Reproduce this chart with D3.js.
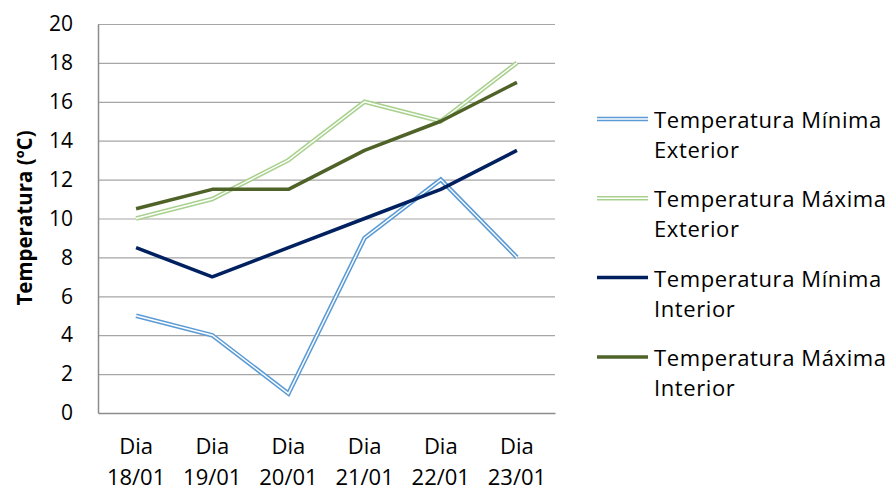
<!DOCTYPE html>
<html><head><meta charset="utf-8">
<script src="https://cdn.jsdelivr.net/npm/d3@7"></script>
<style>body{margin:0;background:#fff}svg{display:block}text{font-family:"Open Sans",sans-serif;fill:#000}</style>
</head><body><svg id="c" width="890" height="492"></svg>
<script>
const categories = [["Dia","18/01"],["Dia","19/01"],["Dia","20/01"],["Dia","21/01"],["Dia","22/01"],["Dia","23/01"]];
const minExterior = [5, 4, 1, 9, 12, 8];
const maxExterior = [10, 11, 13, 16, 15, 18];
const minInterior = [8.5, 7, 8.5, 10, 11.5, 13.5];
const maxInterior = [10.5, 11.5, 11.5, 13.5, 15, 17];
const yTicks = [0,2,4,6,8,10,12,14,16,18,20];
const seriesNames = [["Temperatura Mínima","Exterior"],["Temperatura Máxima","Exterior"],["Temperatura Mínima","Interior"],["Temperatura Máxima","Interior"]];
const yTitle = "Temperatura (ºC)";

const series = [
  {name: seriesNames[0], values: minExterior, color: "#5b9bd5", double: true},
  {name: seriesNames[1], values: maxExterior, color: "#a9d18e", double: true},
  {name: seriesNames[2], values: minInterior, color: "#002060", double: false},
  {name: seriesNames[3], values: maxInterior, color: "#4f6228", double: false}
];

const svg = d3.select("#c");
const L = 98, R = 555, T = 24, B = 413;
const x = d3.scaleBand().domain(d3.range(categories.length)).range([L, R]);
const y = d3.scaleLinear().domain([0, 20]).range([B, T]);

// gridlines
svg.append("g").selectAll("line").data(yTicks.filter(d => d > 0)).join("line")
  .attr("x1", L).attr("x2", R).attr("y1", d => y(d) + 0.5).attr("y2", d => y(d) + 0.5)
  .attr("stroke", "#a6a6a6").attr("stroke-width", 1.2);

// axes
const yAxis = svg.append("g").attr("transform", `translate(${L},0)`)
  .call(d3.axisLeft(y).tickValues(yTicks).tickSize(0).tickPadding(25));
yAxis.select(".domain").attr("stroke", "#8c8c8c").attr("stroke-width", 1.5);
yAxis.selectAll("text").attr("font-size", 21).attr("font-family", "Open Sans").attr("fill", "#000");

const xAxis = svg.append("g").attr("transform", `translate(0,${B})`)
  .call(d3.axisBottom(x).tickSize(0).tickFormat(""));
xAxis.select(".domain").attr("stroke", "#8c8c8c").attr("stroke-width", 1.5);
xAxis.selectAll(".tick").each(function(d) {
  const t = d3.select(this).append("text").attr("text-anchor", "middle")
    .attr("font-size", 22).attr("fill", "#000");
  t.append("tspan").attr("x", 0).attr("y", 41).text(categories[d][0]);
  t.append("tspan").attr("x", 0).attr("y", 72).text(categories[d][1]);
});

// y title
svg.append("text").attr("transform", "translate(32,218) rotate(-90)")
  .attr("text-anchor", "middle").attr("font-size", 20.5).attr("font-weight", "bold").text(yTitle);

const line = d3.line().x((d, i) => x(i) + x.bandwidth() / 2).y(d => y(d));

series.forEach(s => {
  if (s.double) {
    svg.append("path").attr("d", line(s.values)).attr("fill", "none")
      .attr("stroke", s.color).attr("stroke-width", 4.5);
    svg.append("path").attr("d", line(s.values)).attr("fill", "none")
      .attr("stroke", "#fff").attr("stroke-width", 1.4);
  } else {
    svg.append("path").attr("d", line(s.values)).attr("fill", "none")
      .attr("stroke", s.color).attr("stroke-width", 3.5).attr("stroke-linejoin", "round");
  }
});

// legend
const lg = svg.append("g");
series.forEach((s, i) => {
  const cy = 119 + i * 79.3;
  if (s.double) {
    lg.append("line").attr("x1", 597).attr("x2", 648).attr("y1", cy).attr("y2", cy)
      .attr("stroke", s.color).attr("stroke-width", 4.5);
    lg.append("line").attr("x1", 597).attr("x2", 648).attr("y1", cy).attr("y2", cy)
      .attr("stroke", "#fff").attr("stroke-width", 1.4);
  } else {
    lg.append("line").attr("x1", 597).attr("x2", 648).attr("y1", cy).attr("y2", cy)
      .attr("stroke", s.color).attr("stroke-width", 3.5);
  }
  const t = lg.append("text").attr("font-size", 22).attr("letter-spacing", 0.6);
  t.append("tspan").attr("x", 654).attr("y", cy + 9).text(s.name[0]);
  t.append("tspan").attr("x", 654).attr("y", cy + 39).text(s.name[1]);
});
</script></body></html>
